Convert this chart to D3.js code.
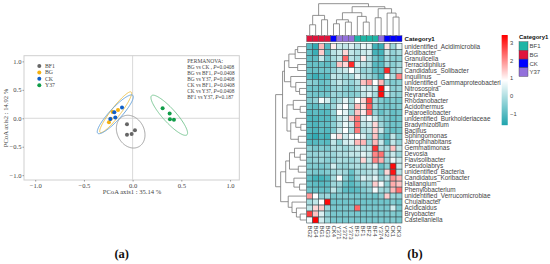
<!DOCTYPE html>
<html>
<head>
<meta charset="utf-8">
<script src="https://cdn.jsdelivr.net/npm/d3@7"></script>
<style>
html, body { margin: 0; padding: 0; background: #fff; }
svg { display: block; }
</style>
</head>
<body>
<svg id="chart"></svg>
<script>
const svg = d3.select("#chart").attr("width", 550).attr("height", 264);
const serif = "'Liberation Serif', serif";
const sans = "'Liberation Sans', sans-serif";

// panel (a) data
const groups = ["BF1", "BG", "CK", "Y37"];
const pointColors = ["#666666", "#f4b010", "#0f5fc8", "#0f9d48"];
const ellipseColors = ["#a3a3a3", "#f0c550", "#6aa5dc", "#7cc896"];
const pointsBF1 = [[-0.058, -0.106], [0.024, -0.21], [-0.01, -0.276], [-0.058, -0.288]];
const pointsBG = [[-0.243, -0.07], [-0.205, 0.11], [-0.15, 0.147], [-0.225, -0.01]];
const pointsCK = [[-0.229, -0.012], [-0.178, 0.012], [-0.188, 0.106], [-0.109, 0.188]];
const pointsY37 = [[0.308, 0.176], [0.38, 0.082], [0.383, -0.018], [0.424, -0.024]];
// cx, cy, half width, half height, correlation
const ellipseBF1 = [-0.02, -0.235, 0.147, 0.288, -0.2];
const ellipseBG = [-0.174, 0.106, 0.164, 0.359, 0.93];
const ellipseCK = [-0.178, 0.07, 0.185, 0.341, 0.9];
const ellipseY37 = [0.376, 0.053, 0.188, 0.353, -0.88];
const pcoaTicks = [-1, -0.5, 0, 0.5, 1];
const permanova = [
    ["BG vs CK , ", "=0.0408"],
    ["BG vs BF1, ", "=0.0408"],
    ["BG vs Y37, ", "=0.0408"],
    ["CK vs BF1, ", "=0.0408"],
    ["CK vs Y37, ", "=0.0408"],
    ["BF1 vs Y37, ", "=0.187"]
];

// panel (b) data
const taxa = [
    "unidentified_Acidimicrobiia", "Acidibacter", "Granulicella", "Terracidiphilus",
    "Candidatus_Solibacter", "Inquilinus", "unidentified_Gammaproteobacteri", "Nitrosospira",
    "Reyranella", "Rhodanobacter", "Acidothermus", "Pajaroellobacter",
    "unidentified_Burkholderiaceae", "Bradyrhizobium", "Bacillus", "Sphingomonas",
    "Jatrophihabitans", "Gemmatimonas", "Devosia", "Flavisolibacter",
    "Pseudolabrys", "unidentified_Bacteria", "Candidatus_Koribacter", "Haliangium",
    "Phenylobacterium", "unidentified_Verrucomicrobiae", "Chujaibacter", "Acidicaldus",
    "Bryobacter", "Castellaniella"
];
const samples = ["BG2", "BG4", "BG1", "BG3", "CK4", "Y371", "Y372", "Y373", "BF3", "BF1", "BF2", "BF4", "Y374", "CK2", "CK1", "CK3"];
const sampleGroups = ["BG", "BG", "BG", "BG", "CK", "Y37", "Y37", "Y37", "BF1", "BF1", "BF1", "BF1", "Y37", "CK", "CK", "CK"];
const heatValues = [
    [-1.0, -1.4, 1.6, -1.0, 1.1, 0.3, 0.2, 0.5, 0.1, 0.7, 0.6, -1.2, -1.3, 1.2, -0.2, 0.6],
    [-0.9, -1.3, 1.4, -0.9, 0.1, 0.3, 1.3, 0.2, 0.0, 0.3, 0.4, -1.2, -1.2, 0.2, -0.3, -0.1],
    [-0.9, -0.9, 0.3, -0.7, -0.1, 0.2, 2.4, 0.1, -0.1, 1.1, 0.1, -0.7, -1.0, -0.1, -0.4, -0.4],
    [-0.8, -0.8, -0.8, -0.9, -0.5, 1.5, 1.3, 3.0, 0.4, 0.1, 0.0, -1.0, -1.0, -0.2, -0.4, -0.2],
    [-0.8, -0.8, -0.7, -0.7, -0.3, 0.1, 0.3, 0.9, 0.2, -0.3, -0.2, -0.9, -0.9, 3.0, -0.3, 0.0],
    [-1.0, -1.3, -1.0, -1.0, 0.2, 0.1, -0.2, -0.1, 0.6, 0.0, -0.2, -0.6, -1.2, 0.8, 0.0, 2.1],
    [-0.4, -0.5, -0.8, -0.7, -0.1, 0.2, -0.1, -0.3, 0.0, 1.5, 1.9, 0.9, 1.6, -0.3, -0.5, -0.4],
    [-0.7, -0.7, -0.8, -0.8, -0.3, -0.1, -0.4, -0.5, -0.2, 0.5, 0.3, 0.3, 3.3, 0.8, -0.4, -0.3],
    [-0.6, -0.7, -0.7, -0.7, -0.2, -0.3, -0.4, -0.5, -0.4, 0.2, 0.5, -0.1, 3.3, 0.3, -0.3, -0.4],
    [-0.5, -0.3, 0.8, 0.4, -0.4, 0.0, 0.6, -0.1, 0.9, 1.3, 2.7, -0.1, -0.5, -0.7, -0.5, -0.6],
    [-0.8, -0.9, -0.6, -0.7, -0.2, 0.5, 0.9, -0.1, 1.6, 1.2, 2.5, -0.2, -0.6, -0.7, -0.6, -0.5],
    [-1.0, -0.9, -1.0, -1.0, -0.3, 0.9, 0.6, -0.2, 1.5, 1.1, 2.4, -0.3, -0.8, -0.5, -0.8, -0.7],
    [-1.1, -1.1, -1.0, -1.0, -0.5, 0.2, 0.5, 1.5, 2.2, 0.5, 0.8, 0.3, -0.4, -0.6, -0.8, -0.7],
    [-1.0, -1.1, -0.9, -0.9, -0.4, 0.1, 0.7, 0.3, 2.3, 0.2, 0.3, 1.3, -0.2, -0.6, -0.7, -0.7],
    [-1.0, -1.1, -0.9, -1.0, -0.5, 0.3, 0.9, 0.0, 2.2, 0.0, 0.1, 1.4, 0.3, -0.7, -0.8, -0.7],
    [-1.2, -1.4, -1.1, -1.2, 0.8, 1.2, 0.4, 0.8, 0.9, 0.5, -0.2, 1.5, -0.6, -1.0, 0.2, -0.5],
    [-1.0, -1.0, -0.9, -1.0, 0.2, -0.4, 0.4, 0.5, 1.6, 1.6, -0.2, 1.6, 0.3, -0.9, 0.2, -0.3],
    [-0.4, -0.6, -0.5, -0.6, 0.0, 0.0, -0.2, 0.0, 0.3, 0.2, 0.2, 2.9, 0.0, -0.1, 1.5, 0.2],
    [-0.3, -0.3, -0.2, -0.3, -0.2, 0.0, 0.0, 0.2, 0.2, 0.6, 0.3, 2.1, 2.3, -0.1, 0.3, -0.2],
    [-0.4, -0.3, -0.2, -0.4, -0.3, 0.0, -0.1, -0.2, 0.0, 1.3, 0.2, 2.1, 1.7, -0.2, 0.7, 0.3],
    [-0.5, -0.5, -0.6, -0.5, 0.4, -0.2, -0.3, -0.1, 0.0, -0.1, 0.1, 0.5, -0.8, -0.4, 3.3, 0.3],
    [-0.5, -0.6, -0.6, -0.5, -0.2, 0.0, -0.2, -0.8, -0.2, -0.1, 0.0, 0.2, -0.6, 1.3, 3.2, 0.1],
    [-0.9, -1.2, -1.2, -1.0, -0.1, 0.9, -0.4, -0.9, -0.3, 0.5, 0.2, 0.6, -0.3, 0.1, 2.0, 1.6],
    [-0.8, -0.9, -1.0, -0.9, -0.2, -0.2, -0.8, -1.0, -0.7, -0.3, -0.2, 1.4, 0.8, -0.4, 1.7, 1.5],
    [-0.7, -0.8, -0.8, -0.8, 0.2, -0.4, -0.9, -1.0, -0.9, -0.5, -0.3, 0.8, -0.1, -0.2, 1.6, 2.3],
    [1.9, 0.9, -0.3, -0.2, -0.6, -0.5, -0.5, -0.6, -0.6, -0.6, -0.6, -0.7, -0.4, 1.4, -0.2, -0.3],
    [-0.1, 0.2, 0.9, 3.3, -0.7, -0.7, -0.7, -0.7, -0.7, -0.7, -0.7, -0.7, -0.7, -0.7, -0.5, -0.7],
    [0.2, 1.3, 1.4, -0.2, -0.6, -0.6, -0.6, -0.6, 2.4, -0.6, -0.6, -0.6, -0.6, -0.6, 0.4, -0.6],
    [2.8, 1.5, 0.5, -0.3, -0.6, -0.6, -0.6, -0.6, -0.6, -0.6, -0.6, -0.6, -0.6, -0.6, -0.5, -0.6],
    [0.8, 3.4, 0.4, -0.2, -0.6, -0.6, -0.6, -0.6, -0.6, -0.6, -0.6, -0.6, -0.6, -0.6, -0.5, -0.6]
];
const heatTicks = [3, 2, 1, 0, -1];
const categoryNames = ["BF1", "BG", "CK", "Y37"];
const categoryColors = ["#1fb5a5", "#e0143c", "#0000ff", "#9370db"];

// dendrograms: [left, right, height], a number is a leaf index
const colTree = [
    [[0, 1, 3.2], [2, 3, 4.7], 6.0],
    [
        [[[4, 5, 3.5], [6, 7, 4.0], 4.7], [8, [9, 10, 4.0], 5.7], 6.8],
        [[11, 12, 5.3], [13, [14, 15, 5.5], 6.7], 8.0],
        8.6
    ],
    9.5
];
const rowTree = [
    [
        [
            [[[0, 1, 2.8], 2, 3.6], [3, 4, 2.8], 5.6],
            [5, [6, [7, 8, 2.2], 3.4], 5.0],
            7.0
        ],
        [[9, [10, 11, 2.0], 4.2], [[12, [13, 14, 1.8], 3.4], [15, 16, 2.6], 5.0], 6.2],
        7.6
    ],
    [
        [[[17, [18, 19, 2.0], 3.8], [20, 21, 2.6], 5.4], [22, [23, 24, 2.2], 4.0], 6.6],
        [25, [26, [27, [28, 29, 2.0], 3.2], 4.6], 5.8],
        8.2
    ],
    9.8
];

// ---------- panel (a) ----------
const x = d3.scaleLinear().domain([-1.115, 1.095]).range([24, 239.3]);
const y = d3.scaleLinear().domain([-1.085, 1.1]).range([180, 55.7]);
const panelA = svg.append("g");

panelA.append("rect")
    .attr("x", 24).attr("y", 55.7).attr("width", 215.3).attr("height", 124.3)
    .attr("fill", "#fff").attr("stroke", "#cfcfcf").attr("stroke-width", 1);
panelA.append("line").attr("x1", x(0)).attr("x2", x(0)).attr("y1", 55.7).attr("y2", 180)
    .attr("stroke", "#d4d4d4").attr("stroke-width", 0.9);
panelA.append("line").attr("x1", 24).attr("x2", 239.3).attr("y1", y(0)).attr("y2", y(0))
    .attr("stroke", "#d4d4d4").attr("stroke-width", 0.9);

const axisBottom = panelA.append("g").attr("transform", "translate(0,180)")
    .call(d3.axisBottom(x).tickValues(pcoaTicks).tickFormat(d3.format(".1f")).tickSize(1.5).tickPadding(1.5));
const axisLeft = panelA.append("g").attr("transform", "translate(24,0)")
    .call(d3.axisLeft(y).tickValues(pcoaTicks).tickFormat(d3.format(".1f")).tickSize(1.5).tickPadding(1));
[axisBottom, axisLeft].forEach(a => {
    a.select(".domain").remove();
    a.selectAll("line").attr("stroke", "#999");
    a.selectAll("text").attr("font-family", serif).attr("font-size", 6.6).attr("fill", "#444")
        .text(d => d3.format(".1f")(d).replace("-", "\u2212"));
});

panelA.append("text").attr("x", 132).attr("y", 194).attr("text-anchor", "middle")
    .attr("font-family", serif).attr("font-size", 6.6).attr("fill", "#444")
    .text("PCoA axis1 : 35.14 %");
panelA.append("text").attr("transform", "translate(7.5,118) rotate(-90)").attr("text-anchor", "middle")
    .attr("font-family", serif).attr("font-size", 6.6).attr("fill", "#444")
    .text("PCoA axis2 : 14.92 %");

// ellipses
[ellipseBF1, ellipseBG, ellipseCK, ellipseY37].forEach((e, i) => {
    const phi = Math.acos(e[4]);
    const path = d3.line()
        .x(t => x(e[0] + e[2] * Math.cos(t)))
        .y(t => y(e[1] + e[3] * Math.cos(t + phi)))
        .curve(d3.curveLinearClosed);
    panelA.append("path")
        .attr("d", path(d3.range(0, Math.PI * 2, 0.05)))
        .attr("fill", "none")
        .attr("stroke", ellipseColors[i])
        .attr("stroke-width", 1);
});

// points
[pointsBF1, pointsBG, pointsCK, pointsY37].forEach((pts, i) => {
    panelA.selectAll(".pt" + i)
        .data(pts)
        .enter()
        .append("circle")
        .attr("cx", d => x(d[0]))
        .attr("cy", d => y(d[1]))
        .attr("r", 2)
        .attr("fill", pointColors[i]);
});

// legend
const legendY = d3.scalePoint().domain(groups).range([66, 85.3]);
groups.forEach((g, i) => {
    panelA.append("circle").attr("cx", 39.3).attr("cy", legendY(g)).attr("r", 2).attr("fill", pointColors[i]);
    panelA.append("text").attr("x", 45).attr("y", legendY(g) + 2)
        .attr("font-family", serif).attr("font-size", 5.8).attr("fill", "#444").text(g);
});

panelA.append("text").attr("x", 187.3).attr("y", 62.5)
    .attr("font-family", serif).attr("font-size", 5.5).attr("fill", "#444").text("PERMANOVA:");
permanova.forEach((d, i) => {
    const t = panelA.append("text").attr("x", 187.3).attr("y", 69 + i * 6)
        .attr("font-family", serif).attr("font-size", 5.3).attr("fill", "#444");
    t.append("tspan").text(d[0]);
    t.append("tspan").attr("font-style", "italic").text("P");
    t.append("tspan").text(d[1]);
});

// ---------- panel (b) ----------
const colX = d3.scaleBand().domain(d3.range(samples.length)).range([306.7, 402]);
const rowY = d3.scaleBand().domain(d3.range(taxa.length)).range([43.6, 223]);
const heatColor = d3.scaleLinear().domain([-1.6, 0.9, 3.4]).range(["#20a4ad", "#ffffff", "#ff0000"]);
const categoryColor = d3.scaleOrdinal().domain(categoryNames).range(categoryColors);
const panelB = svg.append("g");

heatValues.forEach((row, r) => {
    panelB.selectAll(".row" + r)
        .data(row)
        .enter()
        .append("rect")
        .attr("x", (d, c) => colX(c))
        .attr("y", rowY(r))
        .attr("width", colX.bandwidth())
        .attr("height", rowY.bandwidth())
        .attr("fill", d => heatColor(d))
        .attr("stroke", "#3d5256")
        .attr("stroke-width", 0.6);
});

// category strip
panelB.selectAll(".strip")
    .data(sampleGroups)
    .enter()
    .append("rect")
    .attr("x", (d, c) => colX(c))
    .attr("y", 35.7)
    .attr("width", colX.bandwidth())
    .attr("height", 6)
    .attr("fill", d => categoryColor(d))
    .attr("stroke", "#444")
    .attr("stroke-width", 0.4);

panelB.append("text").attr("x", 404.5).attr("y", 41)
    .attr("font-family", sans).attr("font-size", 6.2).attr("font-weight", "bold").attr("fill", "#111")
    .text("Category1");

panelB.selectAll(".taxon")
    .data(taxa)
    .enter()
    .append("text")
    .attr("x", 404.5)
    .attr("y", (d, r) => rowY(r) + rowY.bandwidth() / 2 + 2.2)
    .attr("font-family", sans)
    .attr("font-size", 6.4)
    .attr("fill", "#444")
    .text(d => d);

panelB.selectAll(".sample")
    .data(samples)
    .enter()
    .append("text")
    .attr("transform", (d, c) => `translate(${colX(c) + colX.bandwidth() / 2 - 2},225.5) rotate(90)`)
    .attr("font-family", sans)
    .attr("font-size", 6)
    .attr("fill", "#444")
    .text(d => d);

// dendrograms
const colHeight = d3.scaleLinear().domain([0, 10]).range([35.5, 2]);
const rowHeight = d3.scaleLinear().domain([0, 10]).range([306.5, 275]);

function drawTree(node, leafPos, heightPos, vertical) {
    if (typeof node === "number") return { pos: leafPos(node), h: heightPos(0) };
    const a = drawTree(node[0], leafPos, heightPos, vertical);
    const b = drawTree(node[1], leafPos, heightPos, vertical);
    const h = heightPos(node[2]);
    const d = vertical
        ? `M${a.pos},${a.h}V${h}H${b.pos}V${b.h}`
        : `M${a.h},${a.pos}H${h}V${b.pos}H${b.h}`;
    panelB.append("path").attr("d", d).attr("fill", "none").attr("stroke", "#777").attr("stroke-width", 0.8);
    return { pos: (a.pos + b.pos) / 2, h: h };
}
drawTree(colTree, c => colX(c) + colX.bandwidth() / 2, colHeight, true);
drawTree(rowTree, r => rowY(r) + rowY.bandwidth() / 2, rowHeight, false);

// colour bar
const barY = d3.scaleLinear().domain([-1.6, 3.43]).range([125, 35]);
panelB.selectAll(".bar")
    .data(d3.range(35, 125))
    .enter()
    .append("rect")
    .attr("x", 501.7)
    .attr("y", d => d)
    .attr("width", 6)
    .attr("height", 1.2)
    .attr("fill", d => heatColor(barY.invert(d + 0.5)));
panelB.selectAll(".barTick")
    .data(heatTicks)
    .enter()
    .append("text")
    .attr("x", 510)
    .attr("y", d => barY(d) + 2)
    .attr("font-family", sans)
    .attr("font-size", 5.8)
    .attr("fill", "#444")
    .text(d => String(d).replace("-", "\u2212"));

// category legend
panelB.append("text").attr("x", 519).attr("y", 39)
    .attr("font-family", sans).attr("font-size", 6).attr("font-weight", "bold").attr("fill", "#111")
    .text("Category1");
categoryNames.forEach((name, i) => {
    panelB.append("rect").attr("x", 519).attr("y", 41.7 + i * 8.7).attr("width", 9).attr("height", 8.7)
        .attr("fill", categoryColor(name)).attr("stroke", "#444").attr("stroke-width", 0.4);
    panelB.append("text").attr("x", 529.5).attr("y", 48.2 + i * 8.7)
        .attr("font-family", sans).attr("font-size", 6).attr("fill", "#444").text(name);
});

// panel letters
svg.append("text").attr("x", 121.7).attr("y", 258).attr("text-anchor", "middle")
    .attr("font-family", serif).attr("font-size", 12.5).attr("font-weight", "bold").attr("fill", "#111").text("(a)");
svg.append("text").attr("x", 415).attr("y", 258).attr("text-anchor", "middle")
    .attr("font-family", serif).attr("font-size", 12.5).attr("font-weight", "bold").attr("fill", "#111").text("(b)");
</script>
</body>
</html>
